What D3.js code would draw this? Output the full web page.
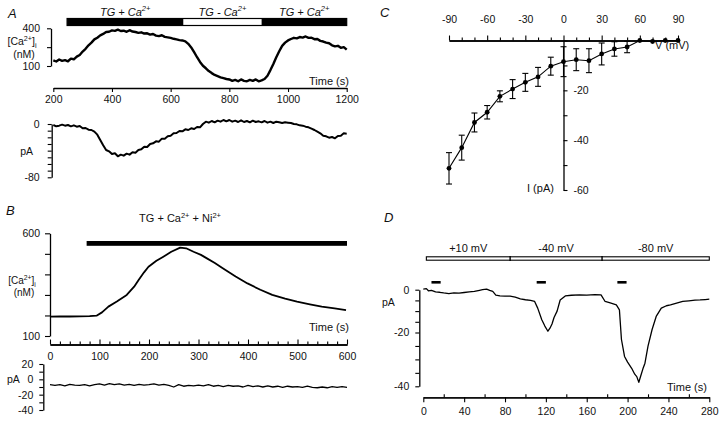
<!DOCTYPE html>
<html><head><meta charset="utf-8">
<script src="https://cdn.jsdelivr.net/npm/d3@7"></script>
<style>body{margin:0;background:#fff}svg{display:block}</style>
</head><body><svg id="c" width="720" height="448"></svg>
<script>
// ================= DATA =================
// Panel A – [Ca2+]i trace (nM, log axis) and membrane current (pA)
const timeA = [200,210,220,230,240,250,260,270,280,290,300,310,320,330,340,350,360,370,380,390,400,410,420,430,440,450,460,470,480,490,500,510,520,530,540,550,560,570,580,590,600,610,620,630,640,650,660,670,680,690,700,710,720,730,740,750,760,770,780,790,800,810,820,830,840,850,860,870,880,890,900,910,920,930,940,950,960,970,980,990,1000,1010,1020,1030,1040,1050,1060,1070,1080,1090,1100,1110,1120,1130,1140,1150,1160,1170,1180,1190,1200];
const caA = [123,118,127,121,124,119,131,128,141,150,170,188,214,236,266,283,308,325,349,352,370,364,381,362,366,352,373,355,349,338,345,330,333,317,324,306,300,310,292,287,281,272,266,259,256,248,226,198,166,138,116,101,92,83,77,72,69,66,64,62,61,58,60,57,61,58,57,60,58,61,57,59,62,70,86,108,138,172,210,236,256,270,282,276,290,284,296,281,283,268,270,252,246,236,231,214,206,210,195,200,182];
const currentA = [-1.5,-3.5,-2.5,-1,-2.5,-1.5,-3.5,-2,-4,-3,-6.5,-6,-8.5,-9,-11.5,-16,-24,-32,-39,-41,-45,-44,-48.5,-46,-47.5,-44.5,-46,-42.5,-43,-39,-38,-34,-34.5,-30,-29,-26,-26.5,-22,-22,-18.5,-17.5,-14,-13.5,-10.5,-11,-8,-9,-6.5,-7.5,-4.5,-5,0,3.5,2,4.5,2.5,5,3.5,6,4,6,3.5,5,3,5.5,3,4.5,2.5,5,3,4,2.5,4.5,2,3.5,1.5,3.5,2.5,1.5,2.5,2,1.5,0,-0.5,-2,-2.5,-4,-5,-7,-9,-11.5,-14,-17.5,-18.5,-20.5,-19.5,-21.5,-18,-17.5,-14,-14.5];
const caTicksA = [100,200,400];
const caLabelsA = [100,400];
const timeTicksA = [200,400,600,800,1000,1200];
const currentTicksA = [0,-10,-20,-30,-40,-50,-60,-70,-80];
const currentLabelsA = [0,-80];
const solutionsA = [
  {from:247, to:643, on:true,  label:"TG + Ca^{2+}"},
  {from:643, to:910, on:false, label:"TG - Ca^{2+}"},
  {from:910, to:1200,on:true,  label:"TG + Ca^{2+}"}
];

// Panel B – [Ca2+]i (nM) and current (pA) with Ni2+
const timeB = [0,20,40,60,80,94,105,118,135,155,170,179,190,199,215,229,245,263,275,290,305,317,333,349,375,399,425,449,475,499,525,549,575,598];
const caB = [194,195,195,196,197,199,215,243,268,300,340,373,410,437,466,486,510,530,527,510,495,478,455,430,390,356,325,300,282,267,254,243,234,226];
const timeB2 = [0,10,20,30,40,50,60,70,80,90,100,110,120,130,140,150,160,170,180,190,200,210,220,230,240,250,260,270,280,290,300,310,320,330,340,350,360,370,380,390,400,410,420,430,440,450,460,470,480,490,500,510,520,530,540,550,560,570,580,590,600];
const currentB = [-7,-8,-7,-8.5,-6.5,-7.5,-8,-7,-8.5,-7,-6,-7.5,-5.5,-7,-6,-7.5,-6.5,-8,-6.5,-7.5,-7,-6,-7.5,-6.5,-8,-10,-7,-9,-8,-8.5,-7.5,-8.5,-7,-9,-8,-9.5,-8,-9,-8.5,-10,-8,-9.5,-8.5,-10,-8.5,-10,-9,-10.5,-9,-10,-9.5,-10.5,-9,-10.5,-11,-10,-11,-9.5,-10.5,-9.5,-10.5];
const caTicksB = [100,200,300,400,500,600];
const caLabelsB = [100,600];
const timeTicksB = [0,100,200,300,400,500,600];
const timeMinorB = [20,40,60,80,120,140,160,180,220,240,260,280,320,340,360,380,420,440,460,480,520,540,560,580];
const currentTicksB = [20,10,0,-10,-20,-30,-40];
const currentLabelsB = [20,0,-20,-40];
const solutionB = {from:74, to:600, label:"TG + Ca^{2+} + Ni^{2+}"};

// Panel C – I–V relation (mean ± error)
const voltageC = [-90,-80,-70,-60,-50,-40,-30,-20,-10,0,10,20,30,40,50,60,70,80,90];
const currentC = [-51.3,-43,-32.9,-28.8,-22.4,-19.5,-16.8,-14.6,-10.3,-8.5,-7.7,-8.1,-5.4,-3.4,-2.6,0,-0.4,0,0];
const errorC = [6.3,5,3.8,2.7,2.2,3.8,3.6,3.8,3.6,6,4.4,4.8,4.4,2.9,2.3,0,0,0,0];
const vTicksC = [-90,-60,-30,0,30,60,90];
const vMinorC = [-80,-70,-50,-40,-20,-10,10,20,40,50,70,80];
const iTicksC = [0,-10,-20,-30,-40,-50,-60];
const iLabelsC = [-20,-40,-60];

// Panel D – current at three holding potentials
const timeD = [0,3,5,8,12,16,20,25,30,35,40,45,50,55,58,62,65,68,71,75,80,85,90,95,100,105,109,112,116,119,122,124,126,128,131,134,139,145,153,160,168,174,178,183,189,192,194,197,200,204,207,209,211,213,215,217,220,224,228,233,238,242,248,254,260,266,271,276,280];
const currentD = [0.3,0.5,-0.5,-0.3,-1,-1.2,-1.5,-1.8,-1.5,-1.6,-1.3,-1,-0.8,-0.3,0,0.3,-0.3,-0.8,-2.5,-2.9,-3,-3,-3.5,-4.3,-4.7,-5,-5.5,-8.6,-14,-17,-19.4,-18,-16,-13,-10,-4.8,-2.9,-2.6,-2.4,-2.5,-2.3,-2.4,-5.5,-6.2,-7.1,-9.4,-22.6,-28.9,-31,-33.3,-35.5,-36.4,-38.5,-36,-33.5,-31.4,-25.1,-18.6,-12.5,-8.6,-7.5,-7.1,-6.3,-5.5,-5.2,-4.9,-4.8,-4.6,-4.4];
const timeTicksD = [0,40,80,120,160,200,240,280];
const timeMinorD = [20,60,100,140,180,220,260];
const currentTicksD = [0,-5,-10,-15,-20,-25,-30,-35,-40];
const currentLabelsD = [0,-20,-40];
const holdingD = [{from:3,to:85,label:"+10 mV"},{from:85,to:175,label:"-40 mV"},{from:175,to:280,label:"-80 mV"}];
const pulsesD = [[8,17],[111,120],[190,199]];

// ================= DRAWING =================
const FONT = '"Liberation Sans", Arial, Helvetica, sans-serif';
const svg = d3.select("#c");
const INK = "#111";
const plain = d => String(d);

function rich(x, y, s, o = {}) {
  const size = o.size || 11;
  const t = svg.append("text").attr("x", x).attr("y", y)
    .attr("font-family", FONT).attr("font-size", size).attr("fill", INK)
    .attr("text-anchor", o.anchor || "start");
  if (o.italic) t.attr("font-style", "italic");
  const parts = s.split(/(\^\{[^}]*\}|_\{[^}]*\})/).filter(p => p.length);
  let cur = 0;
  parts.forEach(p => {
    let off = 0, fs = null, txt = p;
    if (p.startsWith("^{")) { txt = p.slice(2, -1); fs = size * 0.68; off = -0.4 * size; }
    else if (p.startsWith("_{")) { txt = p.slice(2, -1); fs = size * 0.68; off = 0.25 * size; }
    const ts = t.append("tspan").text(txt).attr("dy", off - cur);
    if (fs) ts.attr("font-size", fs);
    cur = off;
  });
  return t;
}
function styleAxis(g, size) {
  g.attr("font-family", FONT).attr("font-size", size || 10.5);
  g.select(".domain").attr("stroke", "#000").attr("stroke-width", 1.3);
  g.selectAll(".tick line").attr("stroke", "#000").attr("stroke-width", 1.1);
  g.selectAll(".tick text").attr("fill", INK);
  return g;
}
function fmt(labels) { return d => labels.includes(d) ? String(d) : ""; }
function trace(xs, ys, xScale, yScale, w) {
  const line = d3.line().x((d, i) => xScale(xs[i])).y(d => yScale(d));
  svg.append("path").datum(ys).attr("d", line).attr("fill", "none")
    .attr("stroke", "#000").attr("stroke-width", w).attr("stroke-linejoin", "round");
}

// ---------- Panel A ----------
const xA = d3.scaleLinear().domain([200, 1200]).range([53.3, 346.7]);
const yCaA = d3.scaleLog().domain([100, 400]).range([66, 28.3]);
const yIA = d3.scaleLinear().domain([0, -80]).range([124, 177.3]);

rich(8, 18, "A", {size: 13, italic: true});
svg.append("rect").attr("x", xA(247)).attr("y", 18.5).attr("width", xA(1200) - xA(247)).attr("height", 7)
  .attr("fill", "#fff").attr("stroke", "#000").attr("stroke-width", 1.2);
solutionsA.forEach(s => {
  if (s.on) svg.append("rect").attr("x", xA(s.from)).attr("y", 18.5).attr("width", xA(s.to) - xA(s.from)).attr("height", 7).attr("fill", "#000");
  rich((xA(s.from) + xA(s.to)) / 2, 15.5, s.label, {size: 11, italic: true, anchor: "middle"});
});
styleAxis(svg.append("g").attr("transform", "translate(51,0)")
  .call(d3.axisLeft(yCaA).tickValues(caTicksA).tickSize(4).tickSizeOuter(0).tickPadding(7).tickFormat(fmt(caLabelsA))));
rich(22, 45, "[Ca^{2+}]_{i}", {size: 10.5, anchor: "middle"});
rich(24, 58, "(nM)", {size: 10.5, anchor: "middle"});
trace(timeA, caA, xA, yCaA, 2.4);
rich(329, 85, "Time (s)", {size: 11, anchor: "middle"});
styleAxis(svg.append("g").attr("transform", "translate(0,88)")
  .call(d3.axisBottom(xA).tickValues(timeTicksA).tickSize(4).tickSizeOuter(0).tickPadding(4).tickFormat(plain)));

styleAxis(svg.append("g").attr("transform", "translate(51.7,0)")
  .call(d3.axisLeft(yIA).tickValues(currentTicksA).tickSize(4).tickSizeOuter(0).tickPadding(8).tickFormat(fmt(currentLabelsA))));
rich(33, yIA(-40) + 4, "pA", {size: 10.5, anchor: "end"});
trace(timeA, currentA, xA, yIA, 2);

// ---------- Panel B ----------
const xB = d3.scaleLinear().domain([0, 600]).range([50, 347]);
const yCaB = d3.scaleLinear().domain([100, 600]).range([336, 233.3]);
const yIB = d3.scaleLinear().domain([20, -40]).range([364, 410]);

rich(6, 215, "B", {size: 13, italic: true});
rich(180, 222, solutionB.label, {size: 11, anchor: "middle"});
svg.append("rect").attr("x", xB(solutionB.from)).attr("y", 241).attr("width", xB(solutionB.to) - xB(solutionB.from)).attr("height", 4.8).attr("fill", "#000");
styleAxis(svg.append("g").attr("transform", "translate(50,0)")
  .call(d3.axisLeft(yCaB).tickValues(caTicksB).tickSize(5).tickSizeOuter(0).tickPadding(5).tickFormat(fmt(caLabelsB))));
rich(22, 284, "[Ca^{2+}]_{i}", {size: 10, anchor: "middle"});
rich(24, 296, "(nM)", {size: 10, anchor: "middle"});
trace(timeB, caB, xB, yCaB, 1.8);
rich(329, 331, "Time (s)", {size: 11, anchor: "middle"});
styleAxis(svg.append("g").attr("transform", "translate(0,344.5)")
  .call(d3.axisBottom(xB).tickValues(timeMinorB).tickSize(-3).tickSizeOuter(0).tickFormat("")));
styleAxis(svg.append("g").attr("transform", "translate(0,344.5)")
  .call(d3.axisBottom(xB).tickValues(timeTicksB).tickSize(-5).tickSizeOuter(0).tickPadding(8).tickFormat(plain)));

styleAxis(svg.append("g").attr("transform", "translate(43.3,0)")
  .call(d3.axisLeft(yIB).tickValues(currentTicksB).tickSize(4).tickSizeOuter(0).tickPadding(6).tickFormat(fmt(currentLabelsB))));
rich(7, yIB(0) + 4, "pA", {size: 10.5});
trace(timeB2, currentB, xB, yIB, 1.3);

// ---------- Panel C ----------
const xC = d3.scaleLinear().domain([-90, 90]).range([449, 678]);
const yC = d3.scaleLinear().domain([0, -60]).range([40.5, 190]);

rich(380, 17, "C", {size: 13, italic: true});
styleAxis(svg.append("g").attr("transform", "translate(0,40.5)")
  .call(d3.axisTop(xC).tickValues(vMinorC).tickSize(3).tickSizeOuter(0).tickFormat("")));
styleAxis(svg.append("g").attr("transform", "translate(0,40.5)")
  .call(d3.axisTop(xC).tickValues(vTicksC).tickSize(5).tickSizeOuter(0).tickPadding(13).tickFormat(plain)));
styleAxis(svg.append("g").attr("transform", `translate(${xC(0)},0)`)
  .call(d3.axisRight(yC).tickValues(iTicksC).tickSize(4).tickSizeOuter(0).tickPadding(6).tickFormat(fmt(iLabelsC))));
rich(655, 49, "V (mV)", {size: 11});
rich(527, 192, "I (pA)", {size: 11});
const gC = svg.append("g");
voltageC.forEach((v, i) => {
  if (errorC[i] > 0) {
    const x = xC(v), y1 = yC(currentC[i] - errorC[i]), y2 = yC(currentC[i] + errorC[i]);
    gC.append("line").attr("x1", x).attr("x2", x).attr("y1", y1).attr("y2", y2).attr("stroke", "#000").attr("stroke-width", 1.1);
    [y1, y2].forEach(y => gC.append("line").attr("x1", x - 3).attr("x2", x + 3).attr("y1", y).attr("y2", y).attr("stroke", "#000").attr("stroke-width", 1.1));
  }
});
svg.append("path").datum(currentC)
  .attr("d", d3.line().x((d, i) => xC(voltageC[i])).y(d => yC(d)))
  .attr("fill", "none").attr("stroke", "#000").attr("stroke-width", 1.1);
svg.append("g").selectAll("circle").data(currentC).join("circle")
  .attr("cx", (d, i) => xC(voltageC[i])).attr("cy", d => yC(d)).attr("r", 2.4).attr("fill", "#000");

// ---------- Panel D ----------
const xD = d3.scaleLinear().domain([0, 280]).range([423.3, 709.3]);
const yD = d3.scaleLinear().domain([0, -20, -40]).range([289.7, 332.5, 386.3]);

rich(384, 222, "D", {size: 13, italic: true});
svg.append("rect").attr("x", xD(holdingD[0].from)).attr("y", 256.8).attr("width", xD(280) - xD(holdingD[0].from)).attr("height", 3.4)
  .attr("fill", "#fff").attr("stroke", "#000").attr("stroke-width", 1.1);
holdingD.forEach((h, i) => {
  if (i > 0) svg.append("line").attr("x1", xD(h.from)).attr("x2", xD(h.from)).attr("y1", 256).attr("y2", 261).attr("stroke", "#000").attr("stroke-width", 1.4);
  rich((xD(h.from) + xD(h.to)) / 2, 252, h.label, {size: 11, anchor: "middle"});
});
pulsesD.forEach(p => svg.append("rect").attr("x", xD(p[0])).attr("y", 281).attr("width", xD(p[1]) - xD(p[0])).attr("height", 2.6).attr("fill", "#000"));
styleAxis(svg.append("g").attr("transform", "translate(419.3,0)")
  .call(d3.axisLeft(yD).tickValues(currentTicksD).tickSize(4).tickSizeOuter(0).tickPadding(6).tickFormat(fmt(currentLabelsD))));
rich(382, 306, "pA", {size: 10.5});
trace(timeD, currentD, xD, yD, 1.3);
rich(687, 391, "Time (s)", {size: 11, anchor: "middle"});
styleAxis(svg.append("g").attr("transform", "translate(0,397.3)")
  .call(d3.axisBottom(xD).tickValues(timeMinorD).tickSize(-3).tickSizeOuter(0).tickFormat("")));
styleAxis(svg.append("g").attr("transform", "translate(0,397.3)")
  .call(d3.axisBottom(xD).tickValues(timeTicksD).tickSize(5).tickSizeOuter(0).tickPadding(5).tickFormat(plain)));
</script></body></html>
